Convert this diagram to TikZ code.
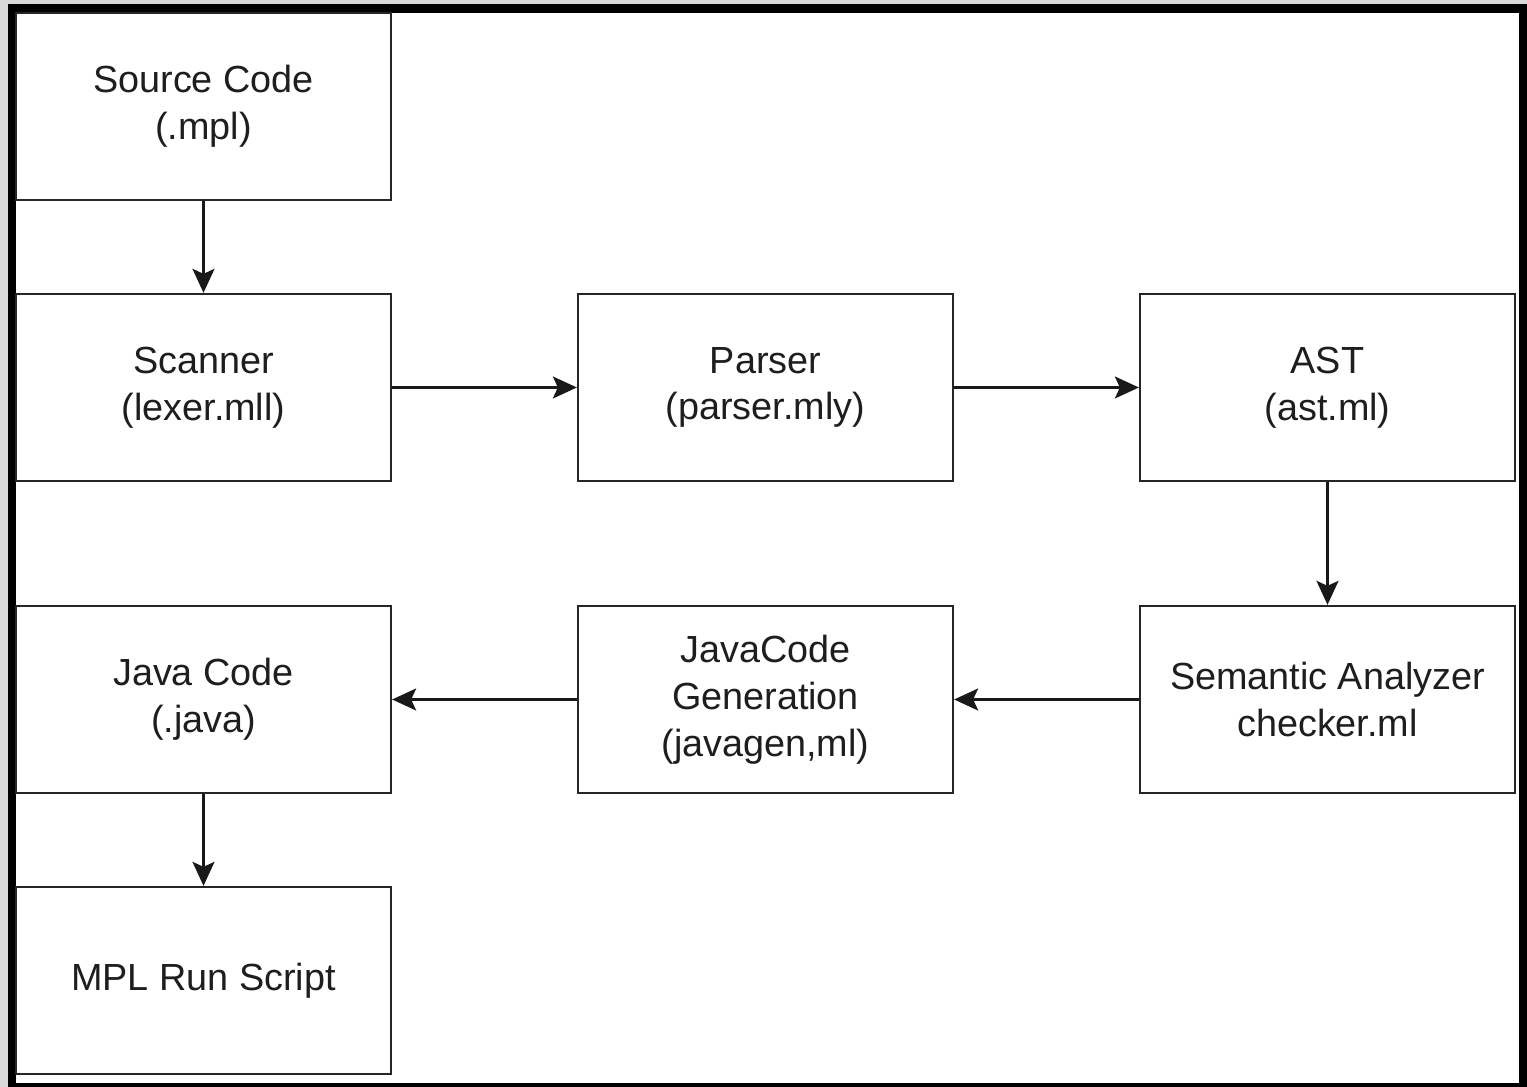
\documentclass[tikz,border=0pt]{standalone}
\usepackage{fontspec}
\setmainfont{Liberation Sans}
\usetikzlibrary{arrows.meta}

\definecolor{framegray}{HTML}{D9D9D9}
\definecolor{textgray}{HTML}{1E1E1E}

\tikzset{
  stage/.style={draw=black!85, line width=1.3pt, fill=white, align=center,
    minimum width=7.5cm, minimum height=3.74cm, inner sep=0pt,
    text=textgray, font=\fontsize{21.5}{26.6}\selectfont},
  flow/.style={line width=1.3pt, draw=black!90,
    -{Stealth[length=0.48cm,width=0.44cm,inset=0.1cm]}}
}

\begin{document}
\begin{tikzpicture}
% frame round the page
\fill[framegray] (0,0) rectangle (30.54,21.74);
\fill[black] (0.16,0) rectangle (30.54,21.66);
\fill[white] (0.32,0.08) rectangle (30.38,21.48);
\useasboundingbox (0,0) rectangle (30.54,21.74);

% first column and row
\node[stage] (src)    at (4.07,19.61) {Source Code\\(.mpl)};
\node[stage] (scan)   at (4.07,13.99) {Scanner\\(lexer.mll)};
\node[stage] (parse)  at (15.31,13.99) {Parser\\(parser.mly)};
\node[stage] (ast)    at (26.55,13.99) {AST\\(ast.ml)};

% back along the third row
\node[stage] (sem)    at (26.55,7.75) {Semantic Analyzer\\checker.ml};
\node[stage] (javagen) at (15.31,7.75) {JavaCode\\Generation\\(javagen,ml)};
\node[stage] (java)   at (4.07,7.75) {Java Code\\(.java)};
\node[stage] (run)    at (4.07,2.13) {MPL Run Script};

\draw[flow] (src) -- (scan);
\draw[flow] (scan) -- (parse);
\draw[flow] (parse) -- (ast);
\draw[flow] (ast) -- (sem);
\draw[flow] (sem) -- (javagen);
\draw[flow] (javagen) -- (java);
\draw[flow] (java) -- (run);
\end{tikzpicture}
\end{document}
